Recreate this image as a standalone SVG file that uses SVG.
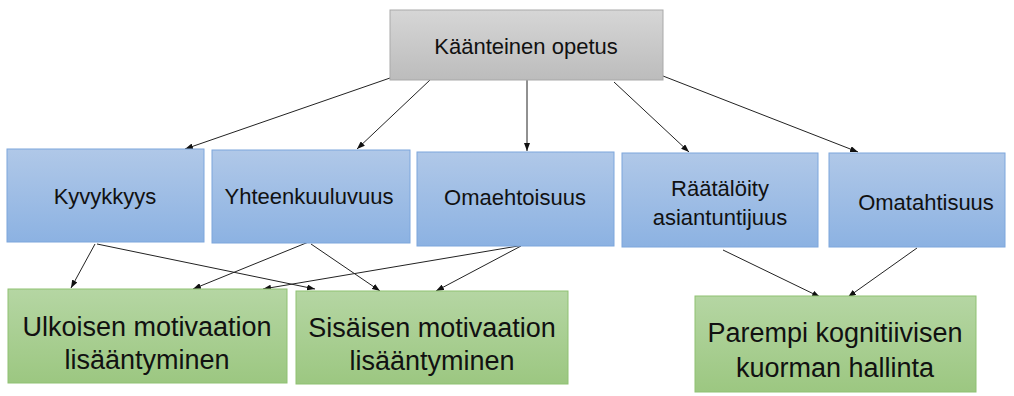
<svg xmlns="http://www.w3.org/2000/svg" width="1014" height="396" viewBox="0 0 1014 396">
<style>
  .t { font-family: "Liberation Sans", Arial, sans-serif; fill: #111; text-anchor: middle; }
  .s { font-size: 22px; }
  .l { font-size: 27px; }
  .gray { fill: url(#gGray); stroke: #a9a9a9; stroke-width: 1; }
  .blue { fill: url(#gBlue); stroke: #7da6dc; stroke-width: 1; }
  .green { fill: url(#gGreen); stroke: #8fc173; stroke-width: 1; }
  .c { stroke: #222; stroke-width: 1; fill: none; marker-end: url(#ah); }
</style>
<defs>
  <linearGradient id="gGray" x1="0" y1="0" x2="0" y2="1">
    <stop offset="0" stop-color="#d6d6d6"/><stop offset="1" stop-color="#bcbcbc"/>
  </linearGradient>
  <linearGradient id="gBlue" x1="0" y1="0" x2="0" y2="1">
    <stop offset="0" stop-color="#b0c8e8"/><stop offset="1" stop-color="#8cb2e2"/>
  </linearGradient>
  <linearGradient id="gGreen" x1="0" y1="0" x2="0" y2="1">
    <stop offset="0" stop-color="#b5d6a3"/><stop offset="1" stop-color="#9cc781"/>
  </linearGradient>
  <marker id="ah" markerWidth="8" markerHeight="6" refX="8" refY="3" orient="auto" markerUnits="userSpaceOnUse">
    <path d="M0,0 L8,3 L0,6 Z" fill="#111"/>
  </marker>
</defs>
<rect width="1014" height="396" fill="#fff"/>

<g id="connectors">
  <line class="c" x1="390" y1="78" x2="185" y2="149"/>
  <line class="c" x1="430" y1="80" x2="357" y2="149"/>
  <line class="c" x1="527" y1="80" x2="527" y2="151"/>
  <line class="c" x1="614" y1="82" x2="689" y2="152"/>
  <line class="c" x1="663" y1="76" x2="858" y2="152"/>
  <line class="c" x1="95" y1="244" x2="71" y2="288"/>
  <line class="c" x1="97" y1="244" x2="315" y2="289"/>
  <line class="c" x1="311" y1="241" x2="193" y2="289"/>
  <line class="c" x1="311" y1="244" x2="380" y2="291"/>
  <line class="c" x1="524" y1="245" x2="263" y2="289"/>
  <line class="c" x1="521" y1="246" x2="436" y2="291"/>
  <line class="c" x1="723" y1="250" x2="820" y2="297"/>
  <line class="c" x1="917" y1="248" x2="848" y2="297"/>
</g>

<g id="kaanteinen-opetus">
  <rect class="gray" x="390" y="10" width="273" height="70"/>
  <text class="t s" x="526" y="54">Käänteinen opetus</text>
</g>

<g id="kyvykkyys">
  <rect class="blue" x="7" y="149" width="197" height="93"/>
  <text class="t s" x="105" y="204">Kyvykkyys</text>
</g>
<g id="yhteenkuuluvuus">
  <rect class="blue" x="212" y="150" width="198" height="93"/>
  <text class="t s" x="309" y="204">Yhteenkuuluvuus</text>
</g>
<g id="omaehtoisuus">
  <rect class="blue" x="417" y="152" width="197" height="94"/>
  <text class="t s" x="515" y="205">Omaehtoisuus</text>
</g>
<g id="raataloity">
  <rect class="blue" x="622" y="153" width="196" height="94"/>
  <text class="t s" x="720" y="196">Räätälöity</text>
  <text class="t s" x="720" y="225">asiantuntijuus</text>
</g>
<g id="omatahtisuus">
  <rect class="blue" x="829" y="153" width="176" height="94"/>
  <text class="t s" x="926" y="210">Omatahtisuus</text>
</g>

<g id="ulkoisen">
  <rect class="green" x="8" y="289" width="279" height="94"/>
  <text class="t l" x="147" y="336">Ulkoisen motivaation</text>
  <text class="t l" x="147" y="369">lisääntyminen</text>
</g>
<g id="sisaisen">
  <rect class="green" x="296" y="291" width="272" height="93"/>
  <text class="t l" x="432" y="337">Sisäisen motivaation</text>
  <text class="t l" x="432" y="370">lisääntyminen</text>
</g>
<g id="parempi">
  <rect class="green" x="695" y="296" width="281" height="96"/>
  <text class="t l" x="835" y="342">Parempi kognitiivisen</text>
  <text class="t l" x="835" y="377">kuorman hallinta</text>
</g>
</svg>
